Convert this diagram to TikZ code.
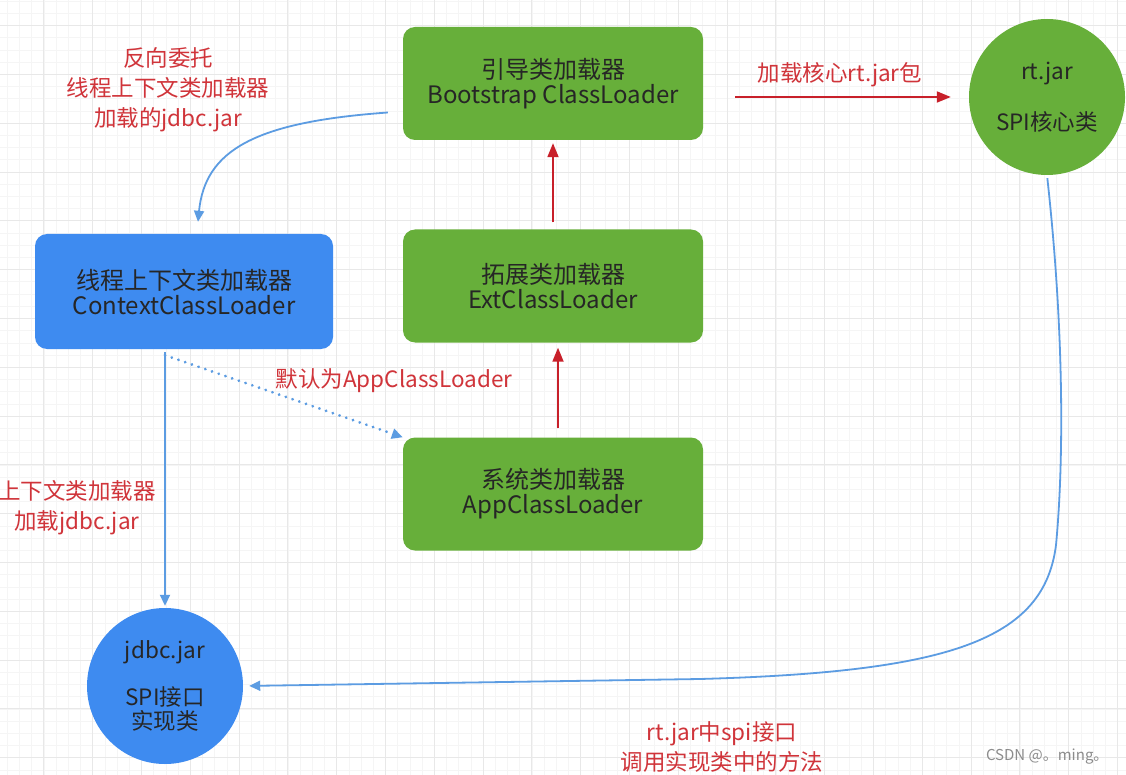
\documentclass[tikz,border=0pt]{standalone}
\usepackage{fontspec}
\setmainfont{Noto Sans CJK SC}
\usetikzlibrary{arrows.meta}
\definecolor{loadgreen}{RGB}{103,175,58}
\definecolor{ctxblue}{RGB}{62,139,240}
\definecolor{flowblue}{RGB}{92,156,226}
\definecolor{flowred}{RGB}{200,32,42}
\definecolor{notered}{RGB}{208,52,58}
\tikzset{
  loader/.style={rectangle,rounded corners=12pt,fill=loadgreen,text=black!85,
    minimum width=300pt,minimum height=113pt,align=center,font=\fontsize{24}{25}\selectfont},
  ctxloader/.style={loader,fill=ctxblue,minimum width=298pt,minimum height=115pt},
  jar/.style={circle,fill=loadgreen,text=black!85,minimum size=156pt,inner sep=0pt,
    align=center,font=\fontsize{22.5}{24}\selectfont},
  note/.style={text=notered,align=center,font=\fontsize{22.5}{30}\selectfont},
  delegate/.style={draw=flowred,line width=1.8pt,-{Triangle[length=14pt,width=11pt]}},
  spiflow/.style={draw=flowblue,line width=1.8pt,-{Triangle[length=11pt,width=10pt]}},
  gridminor/.style={draw=black!4,line width=0.6pt},
  gridmajor/.style={draw=black!9,line width=0.8pt}
}

\begin{document}
\begin{tikzpicture}[x=1pt,y=-1pt]
  \useasboundingbox (0,0) rectangle (1126,775);
  %
  % -- Background grid
  \fill[white] (0,0) rectangle (1126,775);
  \foreach \i in {0,...,92} {
    \draw[gridminor] (7.2+12.2*\i,0) -- (7.2+12.2*\i,775);
  }
  \foreach \i in {0,...,63} {
    \draw[gridminor] (0,1.2+12.2*\i) -- (1126,1.2+12.2*\i);
  }
  \foreach \i in {0,...,22} {
    \draw[gridmajor] (43.8+48.8*\i,0) -- (43.8+48.8*\i,775);
  }
  \foreach \i in {0,...,15} {
    \draw[gridmajor] (0,25.6+48.8*\i) -- (1126,25.6+48.8*\i);
  }

  % -- The three parent loaders
  \node[loader] (boot) at (553,83.5) {引导类加载器\\Bootstrap ClassLoader};
  \node[loader] (ext)  at (553,286)  {拓展类加载器\\ExtClassLoader};
  \node[loader] (app)  at (553,494)  {系统类加载器\\AppClassLoader};

  % -- Thread context loader
  \node[ctxloader] (ctx) at (184,291.5) {线程上下文类加载器\\ContextClassLoader};

  % -- The two jars
  \node[jar] (rt)   at (1047,97) {rt.jar\\[25pt]SPI核心类};
  \node[jar,fill=ctxblue] (jdbc) at (165,686) {jdbc.jar\\[21pt]SPI接口\\实现类};

  % -- Labels
  \node[note] (revnote)  at (168,90)  {反向委托\\线程上下文类加载器\\加载的jdbc.jar};
  \node[note] (corenote) at (840,75)  {加载核心rt.jar包};
  \node[note] (defnote)  at (394,381) {默认为AppClassLoader};
  \node[note] (ctxnote)  at (77,508)  {上下文类加载器\\加载jdbc.jar};
  \node[note] (callnote) at (722,747) {rt.jar中spi接口\\调用实现类中的方法};
  \node[text=black!45,font=\fontsize{15}{18}\selectfont,anchor=east] (mark)
    at (1112,757) {CSDN @。ming。};

  % -- Parent delegation
  \draw[delegate,shorten <=32pt,shorten >=18pt] (boot.east |- rt) -- (rt.west);
  \draw[delegate,shorten <=7pt,shorten >=3pt] (ext.north) -- (boot.south);
  \draw[delegate,shorten <=9pt,shorten >=5pt]
    ([xshift=5pt]app.north) -- ([xshift=5pt]ext.south);

  % -- Reverse delegation through the context loader
  \draw[spiflow] ([shift={(-15,29)}]boot.west)
    .. controls (255,122) and (205,150) .. ([xshift=14pt,yshift=12pt]ctx.north);
  \draw[spiflow,dash pattern=on 0.1pt off 7pt,line cap=round,line width=3pt]
    ([yshift=-6pt]ctx.south -| jdbc) -- (app.north west);
  \draw[spiflow,shorten >=2pt] ([yshift=-3pt]ctx.south -| jdbc) -- (jdbc.north);
  \draw[spiflow,shorten <=3pt,shorten >=6pt] (rt.south)
    .. controls (1064,330) and (1064,460) .. (1056,545)
    .. controls (1044,640) and (950,672) .. (700,679) -- (jdbc.east);
\end{tikzpicture}
\end{document}
